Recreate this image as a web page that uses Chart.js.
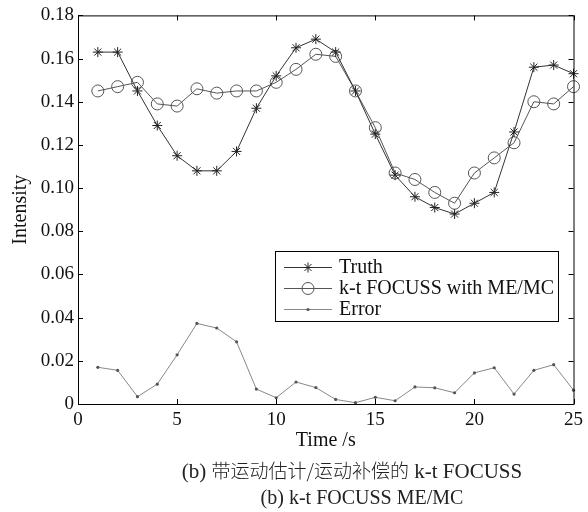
<!DOCTYPE html>
<html>
<head>
<meta charset="utf-8">
<script src="https://cdn.jsdelivr.net/npm/chart.js@4.4.1/dist/chart.umd.min.js"></script>
<style>
  body { margin: 0; background: #fff; }
  #wrap { position: relative; width: 588px; height: 512px; }
  .cap {
    position: absolute; transform: translateX(-50%);
    font-family: "Liberation Serif", serif; font-size: 21px; line-height: 24px;
    color: #222; white-space: nowrap;
  }
  .cap .zh { font-family: "Noto Sans CJK SC", sans-serif; font-size: 19px; font-weight: 300; }
</style>
</head>
<body>
<div id="wrap">
  <canvas id="c" width="588" height="512"></canvas>
  <div class="cap" style="left:352px;top:458px">(b) <span class="zh">带运动估计/运动补偿的</span> k-t FOCUSS</div>
  <div class="cap" style="left:362px;top:485px;font-size:20px">(b) k-t FOCUSS ME/MC</div>
</div>
<script>
// data
const timeS = [1, 2, 3, 4, 5, 6, 7, 8, 9, 10, 11, 12, 13, 14, 15, 16, 17, 18, 19, 20, 21, 22, 23, 24, 25];
const truth = [0.163, 0.163, 0.145, 0.129, 0.115, 0.108, 0.108, 0.117, 0.137, 0.152, 0.165, 0.169, 0.163,
               0.145, 0.125, 0.106, 0.096, 0.091, 0.088, 0.093, 0.098, 0.126, 0.156, 0.157, 0.153];
const focussMeMc = [0.145, 0.147, 0.149, 0.139, 0.138, 0.146, 0.144, 0.145, 0.145, 0.149, 0.155, 0.162, 0.161,
                    0.145, 0.128, 0.107, 0.104, 0.098, 0.093, 0.107, 0.114, 0.121, 0.140, 0.139, 0.147];
const errorVals = [0.017, 0.0156, 0.0034, 0.0092, 0.0228, 0.0373, 0.0352, 0.0288, 0.0069, 0.0029, 0.0102, 0.0076, 0.0021,
                   0.0006, 0.0031, 0.0015, 0.0079, 0.0075, 0.0052, 0.0144, 0.0168, 0.0046, 0.0156, 0.0182, 0.0064];
const xTicks = [0, 5, 10, 15, 20, 25];
const yTicks = [0, 0.02, 0.04, 0.06, 0.08, 0.10, 0.12, 0.14, 0.16, 0.18];
const seriesNames = ['Truth', 'k-t FOCUSS with ME/MC', 'Error'];

const serif = 'Liberation Serif';
const pts = arr => arr.map((v, i) => ({ x: timeS[i], y: v }));

// MATLAB-like box with inward ticks
const boxPlugin = {
  id: 'box',
  afterDraw(chart) {
    const { ctx, chartArea: a, scales } = chart;
    ctx.save();
    ctx.strokeStyle = '#000';
    ctx.lineWidth = 1;
    ctx.strokeRect(a.left + 0.5, a.top + 0.5, a.right - a.left, a.bottom - a.top);
    ctx.beginPath();
    xTicks.forEach(t => {
      const x = Math.round(scales.x.getPixelForValue(t)) + 0.5;
      ctx.moveTo(x, a.bottom); ctx.lineTo(x, a.bottom - 5);
      ctx.moveTo(x, a.top); ctx.lineTo(x, a.top + 5);
    });
    yTicks.forEach(t => {
      const y = Math.round(scales.y.getPixelForValue(t)) + 0.5;
      ctx.moveTo(a.left, y); ctx.lineTo(a.left + 5, y);
      ctx.moveTo(a.right, y); ctx.lineTo(a.right - 5, y);
    });
    ctx.stroke();
    ctx.restore();
  }
};

// legend box inside the plot
function drawMarker(ctx, kind, x, y, color) {
  ctx.strokeStyle = color;
  ctx.fillStyle = color;
  ctx.beginPath();
  if (kind === 'star') {
    const r = 5, d = r * Math.SQRT1_2;
    ctx.moveTo(x - r, y); ctx.lineTo(x + r, y);
    ctx.moveTo(x, y - r); ctx.lineTo(x, y + r);
    ctx.moveTo(x - d, y - d); ctx.lineTo(x + d, y + d);
    ctx.moveTo(x - d, y + d); ctx.lineTo(x + d, y - d);
    ctx.stroke();
  } else if (kind === 'circle') {
    ctx.arc(x, y, 6, 0, Math.PI * 2);
    ctx.stroke();
  } else {
    ctx.arc(x, y, 1.6, 0, Math.PI * 2);
    ctx.fill();
  }
}
const legendPlugin = {
  id: 'boxLegend',
  afterDraw(chart) {
    const ctx = chart.ctx;
    const ds = chart.data.datasets;
    ctx.save();
    ctx.fillStyle = '#fff';
    ctx.fillRect(275, 251, 283, 70);
    ctx.strokeStyle = '#000';
    ctx.lineWidth = 1;
    ctx.strokeRect(275.5, 251.5, 283, 70);
    const kinds = ['star', 'circle', 'dot'];
    seriesNames.forEach((name, i) => {
      const y = 267 + i * 21;
      ctx.strokeStyle = ds[i].borderColor;
      ctx.beginPath();
      ctx.moveTo(284, y + 0.5); ctx.lineTo(332, y + 0.5);
      ctx.stroke();
      drawMarker(ctx, kinds[i], 308, y + 0.5, ds[i].pointBorderColor);
      ctx.fillStyle = '#111';
      ctx.font = '20px "' + serif + '"';
      ctx.textBaseline = 'middle';
      ctx.textAlign = 'left';
      ctx.fillText(name, 339, y + 1);
    });
    ctx.restore();
  }
};

new Chart(document.getElementById('c'), {
  type: 'line',
  data: {
    datasets: [
      {
        label: seriesNames[0], data: pts(truth),
        borderColor: '#333', borderWidth: 1,
        pointStyle: 'star', pointRadius: 5, pointBorderColor: '#222', pointBorderWidth: 1,
        pointBackgroundColor: '#222', tension: 0
      },
      {
        label: seriesNames[1], data: pts(focussMeMc),
        borderColor: '#555', borderWidth: 1,
        pointStyle: 'circle', pointRadius: 6, pointBorderColor: '#555', pointBorderWidth: 1,
        pointBackgroundColor: 'rgba(0,0,0,0)', tension: 0
      },
      {
        label: seriesNames[2], data: pts(errorVals),
        borderColor: '#888', borderWidth: 1,
        pointStyle: 'circle', pointRadius: 1.6, pointBorderColor: '#555', pointBorderWidth: 0,
        pointBackgroundColor: '#555', tension: 0
      }
    ]
  },
  options: {
    responsive: false,
    animation: false,
    clip: false,
    layout: { padding: { left: 0, right: 12, top: 12, bottom: 59 } },
    plugins: { legend: { display: false }, tooltip: { enabled: false } },
    scales: {
      x: {
        type: 'linear', min: 0, max: 25,
        grid: { display: false, drawTicks: false },
        border: { display: false },
        afterBuildTicks: s => { s.ticks = xTicks.map(v => ({ value: v })); },
        afterFit: s => { s.height = 49; },
        ticks: { padding: 5, color: '#111', font: { family: serif, size: 19 }, maxRotation: 0 },
        title: { display: true, text: 'Time /s', color: '#111', font: { family: serif, size: 20 }, padding: { top: 0, bottom: 0 } }
      },
      y: {
        min: 0, max: 0.18,
        grid: { display: false, drawTicks: false },
        border: { display: false },
        afterBuildTicks: s => { s.ticks = yTicks.map(v => ({ value: v })); },
        afterFit: s => { s.width = 78; },
        ticks: {
          padding: 4, color: '#111', font: { family: serif, size: 19 },
          callback: v => (v === 0 ? '0' : v.toFixed(2))
        },
        title: { display: true, text: 'Intensity', color: '#111', font: { family: serif, size: 20 }, padding: { top: 9, bottom: 0 } }
      }
    }
  },
  plugins: [boxPlugin, legendPlugin]
});
</script>
</body>
</html>
